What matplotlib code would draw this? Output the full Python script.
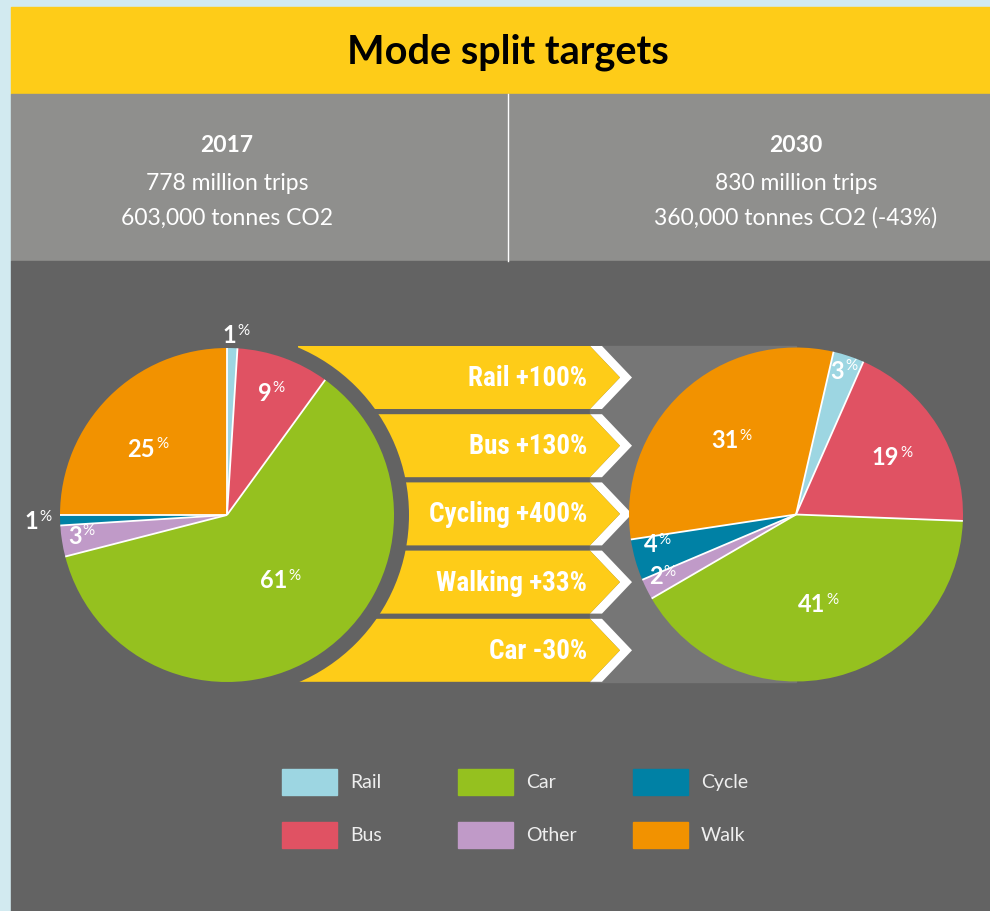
import matplotlib
matplotlib.use("Agg")
import matplotlib.pyplot as plt
from matplotlib.patches import Rectangle, Circle, Polygon
from matplotlib import font_manager
import numpy as np

# ---- data -------------------------------------------------------------
modes = ["Rail", "Bus", "Car", "Other", "Cycle", "Walk"]
share_2017 = [1, 9, 61, 3, 1, 25]
share_2030 = [3, 19, 41, 2, 4, 31]
mode_colors = ["#9dd6e2", "#e05263", "#95c11f", "#c09ac8", "#0081a5", "#f29200"]

years = ["2017", "2030"]
trips = ["778 million trips", "830 million trips"]
emissions = ["603,000 tonnes CO2", "360,000 tonnes CO2 (-43%)"]

change_labels = ["Rail +100%", "Bus +130%", "Cycling +400%", "Walking +33%", "Car -30%"]

legend_order = ["Rail", "Car", "Cycle", "Bus", "Other", "Walk"]

title = "Mode split targets"

# ---- styling ----------------------------------------------------------
W, H = 990, 912
BG_OUTER = "#d2eaf0"
YELLOW = "#fecc18"
HEADER_GRAY = "#8f8f8d"
MAIN_GRAY = "#636363"
LIGHT_GRAY = "#767676"


def pick_font(candidates):
    for name in candidates:
        try:
            font_manager.findfont(font_manager.FontProperties(family=name),
                                  fallback_to_default=False)
            return name
        except Exception:
            continue
    return "DejaVu Sans"


BODY = pick_font(["Lato", "Open Sans", "DejaVu Sans"])
NARROW = pick_font(["Liberation Sans Narrow", "Roboto Condensed",
                    "Open Sans Condensed", "Roboto", "DejaVu Sans"])


def Y(y):
    """Convert a top-down pixel row into the axes' bottom-up coordinate."""
    return H - y


fig = plt.figure(figsize=(W / 100, H / 100), dpi=100)
fig.patch.set_facecolor(BG_OUTER)
ax = fig.add_axes([0, 0, 1, 1])

# panels
ax.add_patch(Rectangle((11, Y(95)), W - 11, 87, color=YELLOW, zorder=0))
ax.add_patch(Rectangle((11, Y(262)), W - 11, 167, color=HEADER_GRAY, zorder=0))
ax.add_patch(Rectangle((11, 0), W - 11, Y(262), color=MAIN_GRAY, zorder=0))
ax.plot([508, 508], [Y(95), Y(262)], color="white", lw=1, zorder=1)

ax.text(508, Y(52), title, ha="center", va="center", fontsize=28.5,
        fontweight="bold", family=BODY, color="black", zorder=2)

# header columns
col_x = [227, 796]
for cx, yr, tr, em in zip(col_x, years, trips, emissions):
    ax.text(cx, Y(145), yr, ha="center", va="center", fontsize=16.5,
            fontweight="bold", family=BODY, color="white")
    ax.text(cx, Y(183), tr, ha="center", va="center", fontsize=16.5,
            family=BODY, color="white")
    ax.text(cx, Y(218), em, ha="center", va="center", fontsize=16.5,
            family=BODY, color="white")

# ---- change arrows ----------------------------------------------------
left_c = (227, Y(516))
right_c = (796, Y(515.5))
pie_r = 167

band_top, band_pitch, band_h = 347, 68.2, 63
ax.add_patch(Rectangle((590, Y(band_top + 4 * band_pitch + band_h)), 206,
                       4 * band_pitch + band_h, color=LIGHT_GRAY, zorder=1))

for i, lab in enumerate(change_labels):
    top = band_top + i * band_pitch
    bot = top + band_h
    mid = (top + bot) / 2
    white = [(590, Y(top)), (602, Y(top)), (632, Y(mid)), (602, Y(bot)),
             (590, Y(bot)), (620, Y(mid))]
    ax.add_patch(Polygon(white, closed=True, color="white", lw=0, zorder=2))
    yel = [(298, Y(top)), (590, Y(top)), (620, Y(mid)), (590, Y(bot)),
           (298, Y(bot))]
    ax.add_patch(Polygon(yel, closed=True, color=YELLOW, lw=0, zorder=3))
    ax.text(587, Y(mid), lab, ha="right", va="center", fontsize=19.5,
            fontweight="bold", family=NARROW, color="white", zorder=4)

# ring separating the 2017 pie from the arrows
ax.add_patch(Circle(left_c, 182, color=MAIN_GRAY, zorder=4, lw=0))

# ---- pies -------------------------------------------------------------
pending = []


def draw_pie(values, center, start, label_r, label_nudge):
    wedges, _ = ax.pie(values, colors=mode_colors, startangle=start,
                       counterclock=False, center=center, radius=pie_r,
                       wedgeprops=dict(linewidth=0))
    for w in wedges:
        w.set_zorder(5)
    for w in wedges:
        a = np.deg2rad(w.theta2)
        ax.plot([center[0], center[0] + pie_r * np.cos(a)],
                [center[1], center[1] + pie_r * np.sin(a)],
                color="white", lw=1.3, zorder=6, solid_capstyle="butt")
    for w, v, rf, dn in zip(wedges, values, label_r, label_nudge):
        a = np.deg2rad((w.theta1 + w.theta2) / 2 + dn)
        x = center[0] + rf * pie_r * np.cos(a)
        y = center[1] + rf * pie_r * np.sin(a)
        tn = ax.text(x, y, f"{v}", ha="left", va="center", fontsize=17,
                     fontweight="bold", family=BODY, color="white", zorder=7)
        tp = ax.text(x, y + 5, "%", ha="left", va="center", fontsize=11,
                     family=BODY, color="white", zorder=7)
        pending.append((tn, tp, x))


draw_pie(share_2017, left_c, 90,
         label_r=[1.08, 0.78, 0.50, 0.88, 1.13, 0.62],
         label_nudge=[-1, 0, 5, -1, 0, 5])
draw_pie(share_2030, right_c, 77,
         label_r=[0.91, 0.67, 0.55, 0.88, 0.85, 0.59],
         label_nudge=[0, -1, 0, -2, -4, -2])

# ---- legend -----------------------------------------------------------
leg_cols = [282, 458, 633]
leg_rows = [770, 823]
for k, name in enumerate(legend_order):
    x0 = leg_cols[k % 3]
    y0 = leg_rows[k // 3]
    ax.add_patch(Rectangle((x0, Y(y0 + 26)), 55, 26,
                           color=mode_colors[modes.index(name)], zorder=2))
    ax.text(x0 + 68, Y(y0 + 13), name, ha="left", va="center", fontsize=14,
            family=BODY, color="#eeeeee", zorder=2)

ax.set_xlim(0, W)
ax.set_ylim(0, H)
ax.set_aspect("auto")
ax.axis("off")

# centre each "NN%" label pair on its anchor
fig.canvas.draw()
rend = fig.canvas.get_renderer()
for tn, tp, cx in pending:
    wn = tn.get_window_extent(rend).width
    wp = tp.get_window_extent(rend).width
    left = cx - (wn + wp + 1) / 2
    tn.set_x(left)
    tp.set_x(left + wn + 1)

fig.savefig("out.png", dpi=100, facecolor=fig.get_facecolor())
